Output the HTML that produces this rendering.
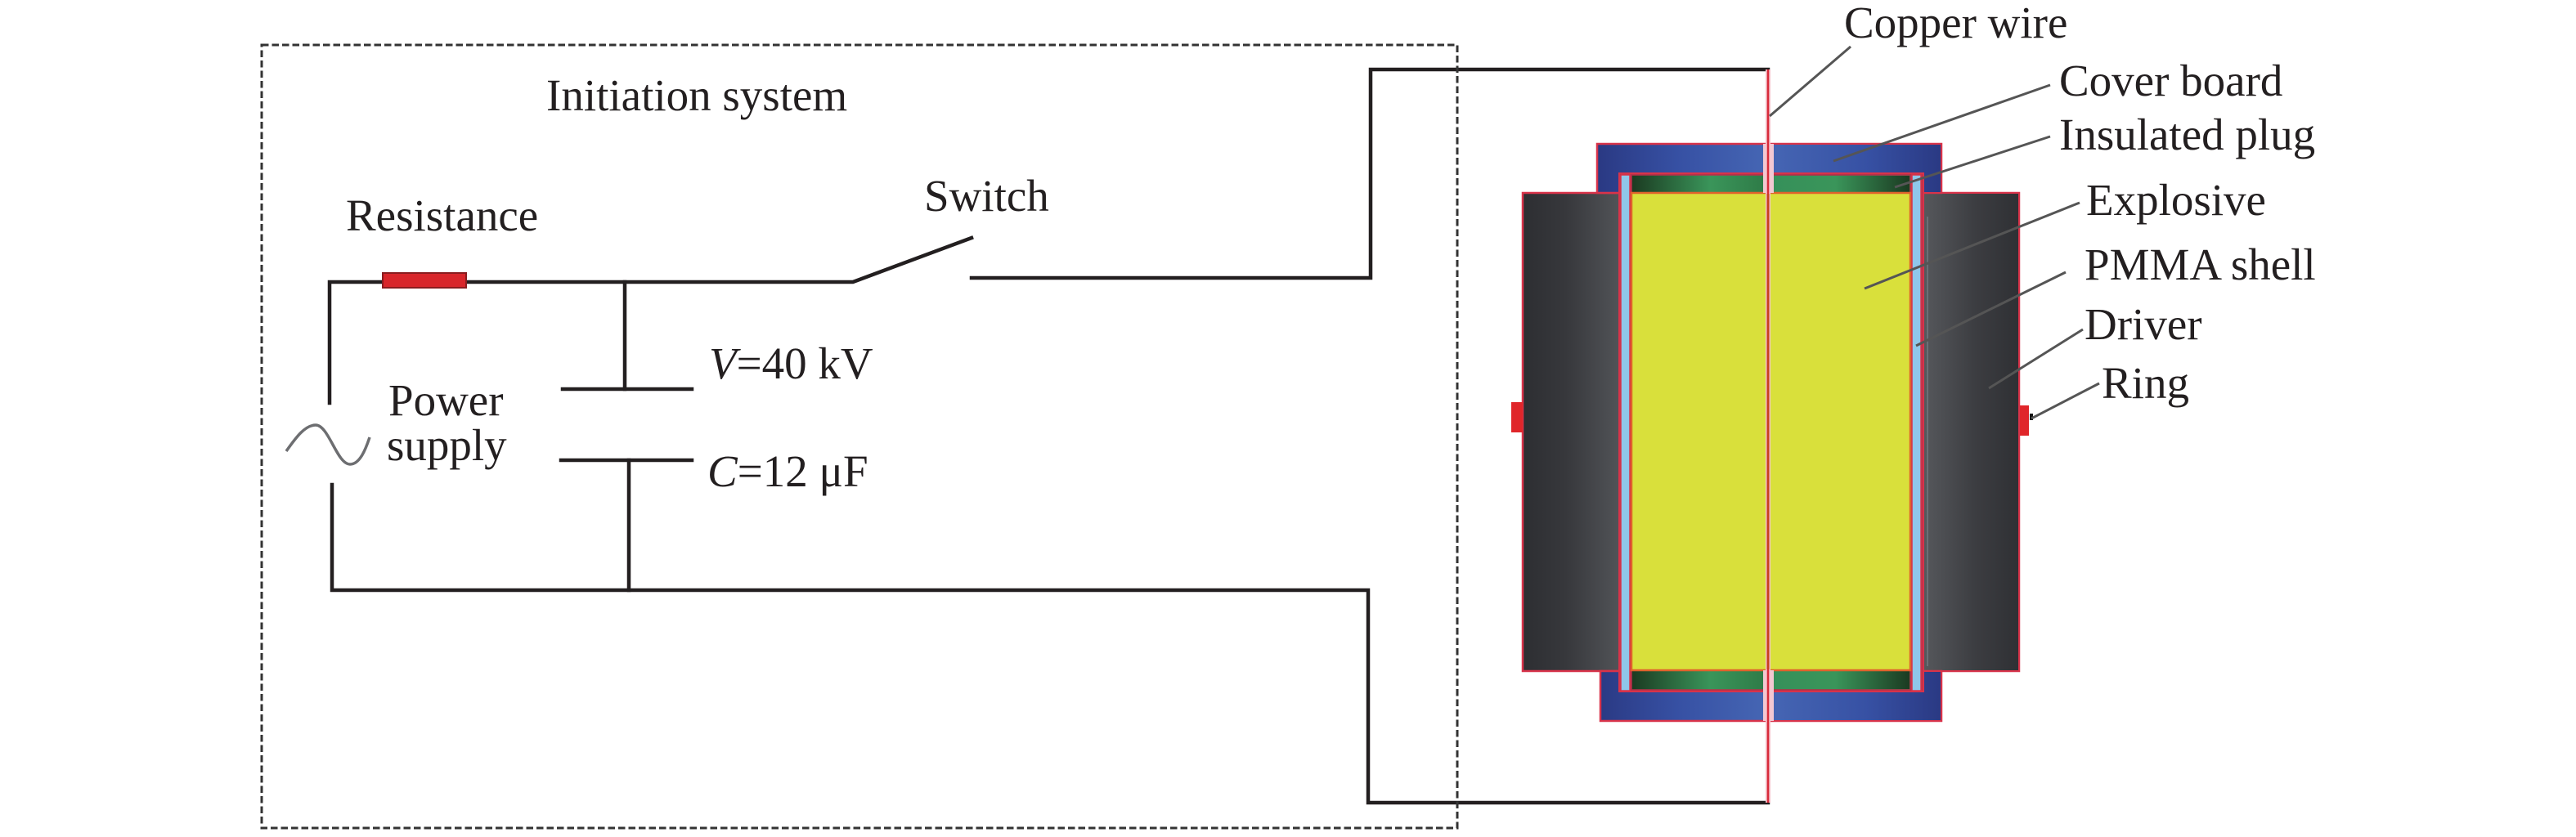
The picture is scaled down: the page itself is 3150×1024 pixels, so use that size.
<!DOCTYPE html>
<html>
<head>
<meta charset="utf-8">
<style>
  html,body{margin:0;padding:0;background:#fff;}
  svg{display:block;}
  text{font-family:"Liberation Serif","Times New Roman",serif;font-size:55px;fill:#231f20;}
</style>
</head>
<body>
<svg width="3150" height="1024" viewBox="0 0 3150 1024" xmlns="http://www.w3.org/2000/svg">
  <defs>
    <linearGradient id="drvL" gradientUnits="userSpaceOnUse" x1="1862" y1="0" x2="1980" y2="0">
      <stop offset="0" stop-color="#2d2e32"/>
      <stop offset="0.45" stop-color="#37383c"/>
      <stop offset="1" stop-color="#515357"/>
    </linearGradient>
    <linearGradient id="drvR" gradientUnits="userSpaceOnUse" x1="2350" y1="0" x2="2469" y2="0">
      <stop offset="0" stop-color="#57595d"/>
      <stop offset="0.55" stop-color="#3c3d41"/>
      <stop offset="1" stop-color="#2f3034"/>
    </linearGradient>
    <linearGradient id="blueL" gradientUnits="userSpaceOnUse" x1="1953" y1="0" x2="2156" y2="0">
      <stop offset="0" stop-color="#2a3983"/>
      <stop offset="0.5" stop-color="#3751a4"/>
      <stop offset="1" stop-color="#4565b3"/>
    </linearGradient>
    <linearGradient id="blueR" gradientUnits="userSpaceOnUse" x1="2169" y1="0" x2="2374" y2="0">
      <stop offset="0" stop-color="#4565b3"/>
      <stop offset="0.55" stop-color="#3751a4"/>
      <stop offset="1" stop-color="#2a3983"/>
    </linearGradient>
    <linearGradient id="grnL" gradientUnits="userSpaceOnUse" x1="1995" y1="0" x2="2156" y2="0">
      <stop offset="0" stop-color="#1b3a21"/>
      <stop offset="0.6" stop-color="#3a955a"/>
      <stop offset="1" stop-color="#2f7c48"/>
    </linearGradient>
    <linearGradient id="grnR" gradientUnits="userSpaceOnUse" x1="2169" y1="0" x2="2336" y2="0">
      <stop offset="0" stop-color="#36905a"/>
      <stop offset="0.45" stop-color="#3a955a"/>
      <stop offset="1" stop-color="#1b3a21"/>
    </linearGradient>
  </defs>

  <!-- ===== Circuit wires ===== -->
  <g stroke="#231f20" stroke-width="4.5" fill="none" stroke-linejoin="miter" stroke-linecap="square">
    <!-- top left loop -->
    <polyline points="403,493 403,345 1043,345 1188,291"/>
    <!-- right of switch -->
    <polyline points="1188,340 1676,340 1676,85 2162,85"/>
    <!-- bottom -->
    <polyline points="406,593 406,722 1673,722 1673,982 2162,982"/>
    <!-- capacitor -->
    <line x1="764" y1="345" x2="764" y2="476"/>
    <line x1="688" y1="476" x2="846" y2="476"/>
    <line x1="686" y1="563" x2="846" y2="563"/>
    <line x1="769" y1="563" x2="769" y2="722"/>
  </g>
  <!-- resistor -->
  <rect x="468" y="334" width="102" height="18" fill="#d8262b" stroke="#8a1c1f" stroke-width="2"/>
  <!-- AC source sine -->
  <path d="M350,552 C362,535 373,520 386,520 C402,520 412,568 428,568 C440,568 447,550 452,535" fill="none" stroke="#6d6e71" stroke-width="3.5"/>

  <!-- ===== Device ===== -->
  <!-- driver -->
  <rect x="1862" y="236" width="607" height="585" fill="url(#drvL)" stroke="#d8334a" stroke-width="2.5"/>
  <rect x="2350" y="237" width="118" height="583" fill="url(#drvR)"/>
  <line x1="2357" y1="265" x2="2357" y2="815" stroke="#6b7076" stroke-width="2"/>
  <!-- rings -->
  <rect x="1848" y="492" width="14" height="37" fill="#e0262a"/>
  <rect x="2470" y="496" width="11" height="37" fill="#e0262a"/>
  <rect x="2482" y="506" width="4" height="8" fill="#111"/>

  <!-- top cover board -->
  <rect x="1953" y="176" width="421" height="60" fill="url(#blueL)" stroke="#d8334a" stroke-width="2.5"/>
  <rect x="2169" y="177" width="204" height="58" fill="url(#blueR)"/>
  <!-- bottom cover board -->
  <rect x="1957" y="821" width="417" height="61" fill="url(#blueL)" stroke="#d8334a" stroke-width="2.5"/>
  <rect x="2169" y="822" width="204" height="59" fill="url(#blueR)"/>

  <!-- inner column outline -->
  <rect x="1980" y="212" width="372" height="634" fill="#b83048" stroke="#d8334a" stroke-width="2"/>
  <!-- PMMA shells -->
  <rect x="1982" y="214" width="11" height="631" fill="#8fc7ea" stroke="#d8334a" stroke-width="1.5"/>
  <rect x="2338" y="214" width="11" height="631" fill="#8fc7ea" stroke="#d8334a" stroke-width="1.5"/>
  <!-- plugs -->
  <rect x="1995" y="214" width="341" height="22" fill="url(#grnL)" stroke="#b8304a" stroke-width="1.5"/>
  <rect x="2169" y="215" width="166" height="20" fill="url(#grnR)"/>
  <rect x="1995" y="820" width="341" height="24" fill="url(#grnL)" stroke="#b8304a" stroke-width="1.5"/>
  <rect x="2169" y="821" width="166" height="22" fill="url(#grnR)"/>
  <!-- explosive -->
  <rect x="1995" y="236" width="341" height="584" fill="#d9e03b" stroke="#e0622c" stroke-width="2.5"/>

  <!-- copper wire holes -->
  <rect x="2156" y="176" width="13" height="60" fill="#f2c8d2"/>
  <rect x="2156" y="820" width="13" height="62" fill="#f2c8d2"/>
  <!-- copper wire -->
  <line x1="2162" y1="85" x2="2162" y2="982" stroke="#f6c4cc" stroke-width="6"/>
  <line x1="2162" y1="85" x2="2162" y2="982" stroke="#d82a3a" stroke-width="2.5"/>
  <line x1="2162" y1="237" x2="2162" y2="819" stroke="#c8401e" stroke-width="3"/>

  <!-- ===== dashed box (drawn over wires) ===== -->
  <rect x="320" y="55" width="1462" height="958" fill="none" stroke="#333" stroke-width="3" stroke-dasharray="8.5 4"/>

  <!-- ===== leader lines ===== -->
  <g stroke="#555" stroke-width="3" fill="none">
    <line x1="2164" y1="142" x2="2263" y2="57"/>
    <line x1="2242" y1="197" x2="2507" y2="104"/>
    <line x1="2317" y1="229" x2="2507" y2="167"/>
    <line x1="2280" y1="353" x2="2543" y2="248"/>
    <line x1="2343" y1="423" x2="2526" y2="333"/>
    <line x1="2432" y1="475" x2="2547" y2="403"/>
    <line x1="2484" y1="512" x2="2567" y2="469"/>
  </g>

  <!-- ===== text ===== -->
  <text x="668" y="135">Initiation system</text>
  <text x="423" y="282">Resistance</text>
  <text x="1130" y="258">Switch</text>
  <text x="475" y="508">Power</text>
  <text x="473" y="563">supply</text>
  <text x="867" y="463"><tspan font-style="italic">V</tspan>=40 kV</text>
  <text x="865" y="595"><tspan font-style="italic">C</tspan>=12 μF</text>

  <text x="2255" y="46">Copper wire</text>
  <text x="2518" y="117">Cover board</text>
  <text x="2518" y="183">Insulated plug</text>
  <text x="2551" y="263">Explosive</text>
  <text x="2549" y="342">PMMA shell</text>
  <text x="2549" y="415">Driver</text>
  <text x="2570" y="487">Ring</text>
</svg>
</body>
</html>
